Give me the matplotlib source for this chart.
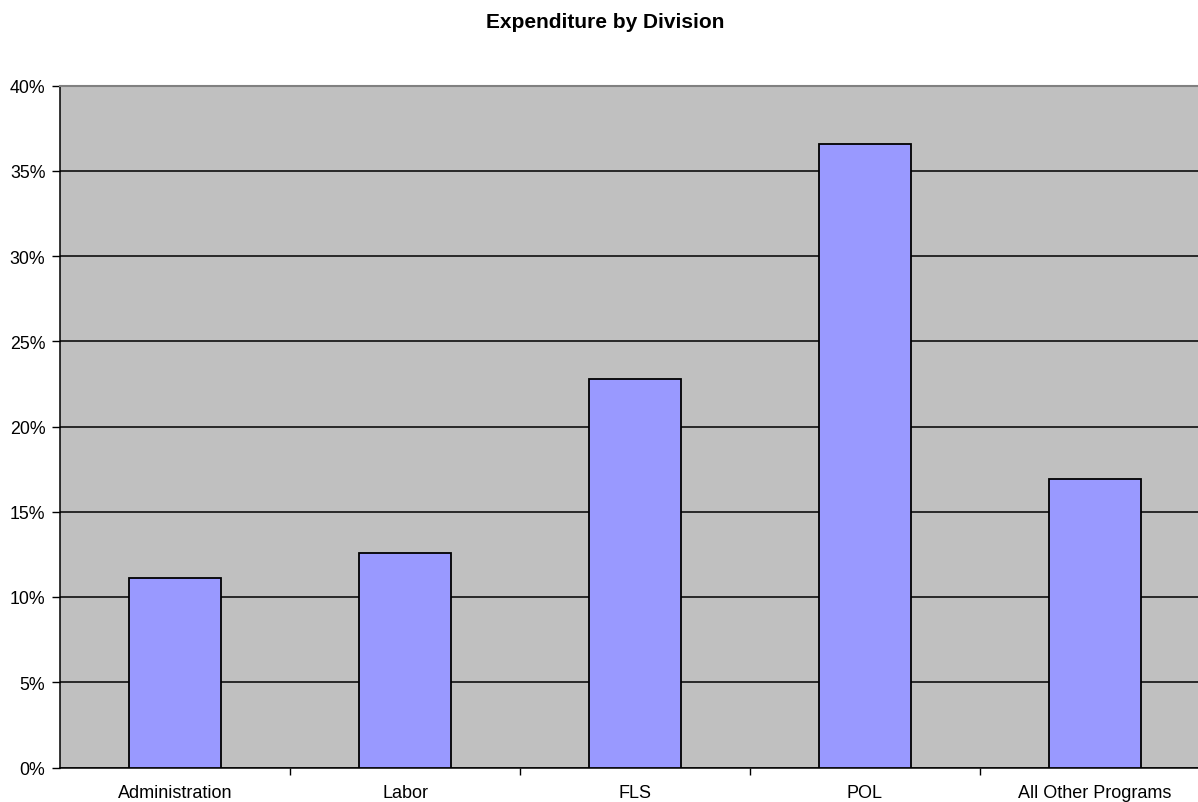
import numpy as np
import matplotlib.pyplot as plt
from matplotlib.ticker import FuncFormatter

plt.rcParams['font.family'] = ['Liberation Sans', 'DejaVu Sans']

# data
divisions = ['Administration', 'Labor', 'FLS', 'POL', 'All Other Programs']
share_pct = [11.1, 12.6, 22.8, 36.55, 16.95]

fig = plt.figure(figsize=(11.98, 8.03), dpi=100)
ax = fig.add_axes([60 / 1198, 34.5 / 803, 1150 / 1198, 682 / 803])

x = np.arange(len(divisions))
ax.set_facecolor('#C0C0C0')
ax.bar(x, share_pct, width=0.4, color='#9999FF', edgecolor='black', linewidth=1.3, zorder=3)

ax.set_xlim(-0.5, len(divisions) - 0.5)
ax.set_ylim(0, 40)
ax.set_yticks(np.arange(0, 41, 5))
ax.yaxis.set_major_formatter(FuncFormatter(lambda v, p: f'{v:.0f}%'))
ax.yaxis.grid(True, color='black', linewidth=1.1, zorder=1)
ax.set_axisbelow(True)

# category labels at centres, tick marks at the boundaries
ax.set_xticks(x)
ax.set_xticklabels(divisions)
ax.set_xticks(np.arange(0.5, len(divisions) - 0.5, 1), minor=True)
ax.tick_params(axis='x', which='major', length=0, pad=12, labelsize=13)
ax.tick_params(axis='x', which='minor', length=5, width=1, color='black', direction='out')
ax.tick_params(axis='y', length=6, width=1, direction='out', pad=4.5, labelsize=12.8)

for side in ['left', 'bottom']:
    ax.spines[side].set_color('black')
    ax.spines[side].set_linewidth(1.1)
ax.spines['top'].set_color('#808080')
ax.spines['top'].set_linewidth(1.5)
ax.spines['right'].set_color('#808080')

fig.text(605 / 1198, 1 - 22 / 803, 'Expenditure by Division', ha='center', va='center',
         fontsize=15, fontweight='bold')

fig.savefig('out.png', dpi=100)
